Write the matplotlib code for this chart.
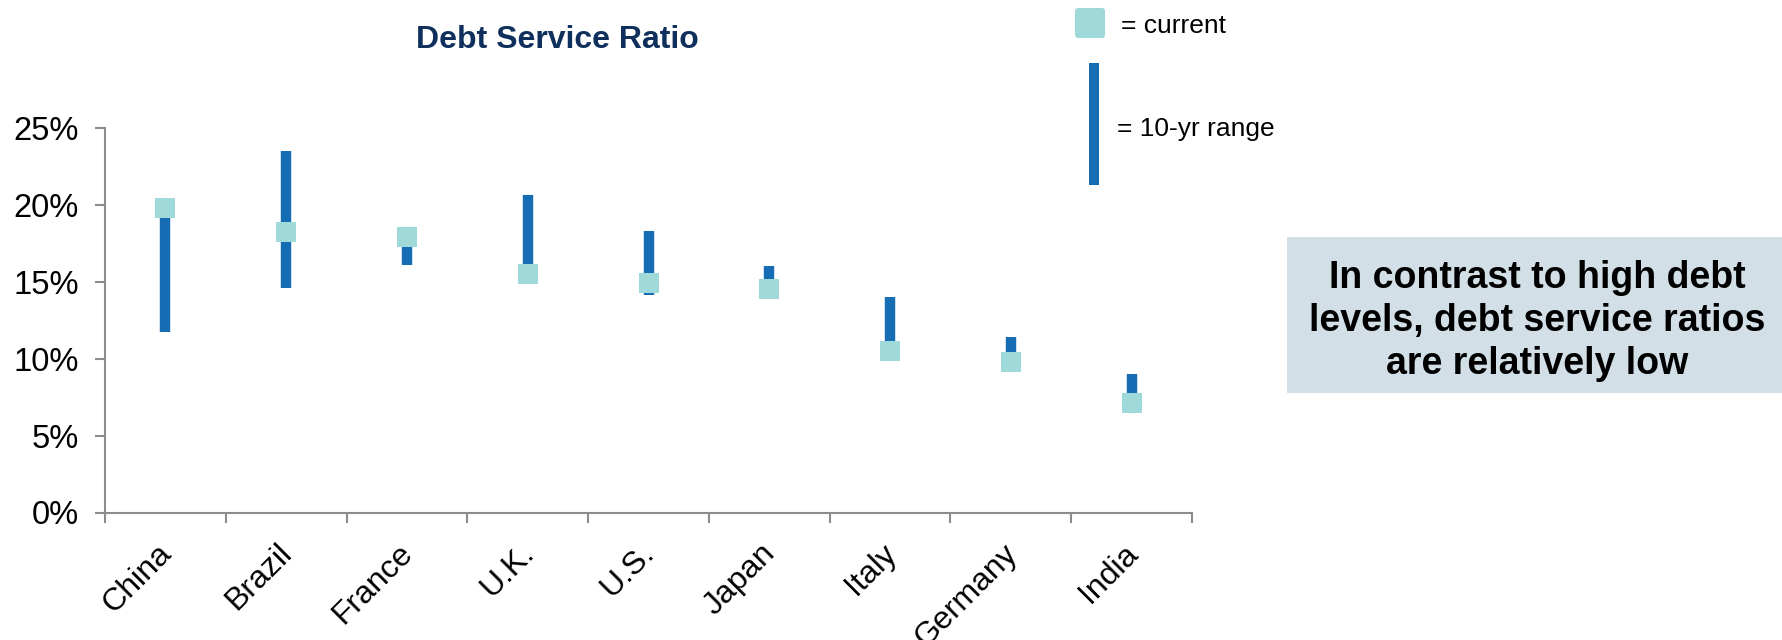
import numpy as np
import matplotlib
matplotlib.use('Agg')
import matplotlib.pyplot as plt
import matplotlib.transforms as mtransforms
from matplotlib.patches import Rectangle, FancyBboxPatch

plt.rcParams['font.family'] = ['Liberation Sans', 'DejaVu Sans']

# debt service ratio, % of income
countries = ['China', 'Brazil', 'France', 'U.K.', 'U.S.', 'Japan', 'Italy', 'Germany', 'India']
current = [19.8, 18.2, 17.9, 15.5, 14.9, 14.5, 10.5, 9.8, 7.1]
range_low = [11.7, 14.6, 16.1, 15.5, 14.1, 14.5, 10.5, 9.8, 7.1]
range_high = [19.8, 23.5, 17.9, 20.6, 18.3, 16.0, 14.0, 11.4, 9.0]
yticks = [0, 5, 10, 15, 20, 25]

bar_col = '#166db3'
cur_col = '#a0d9da'
axis_col = '#8c8c8c'

W, H = 1783, 640
fig = plt.figure(figsize=(W / 100, H / 100), dpi=100)
ax = fig.add_axes([105 / W, 1 - 512.5 / H, (1192 - 105) / W, (512.5 - 127.7) / H])

x = np.arange(len(countries)) + 0.5
ax.vlines(x, range_low, range_high, color=bar_col, linewidth=7.5, zorder=2)
ax.plot(x, current, linestyle='none', marker='s', markersize=14.6,
        color=cur_col, markeredgewidth=0, zorder=3, clip_on=False)

ax.set_xlim(0, len(countries))
ax.set_ylim(0, 25)
ax.set_yticks(yticks)
ax.set_yticklabels([f'{v}%' for v in yticks], fontsize=23.5)
ax.set_xticks(x)
ax.set_xticklabels(countries, fontsize=23, rotation=45, ha='right',
                   rotation_mode='anchor')
ax.set_xticks(np.arange(len(countries) + 1), minor=True)
ax.tick_params(axis='x', which='major', length=0, pad=18.5)
ax.tick_params(axis='x', which='minor', length=7, width=1.5, color=axis_col)
ax.tick_params(axis='y', length=7, width=1.5, color=axis_col, pad=12)
for s in ['top', 'right']:
    ax.spines[s].set_visible(False)
for s in ['left', 'bottom']:
    ax.spines[s].set_color(axis_col)
    ax.spines[s].set_linewidth(1.5)

# nudge the slanted country names a little to the left
shift = mtransforms.ScaledTranslation(-9 / 100, 0, fig.dpi_scale_trans)
for lab in ax.get_xticklabels():
    lab.set_transform(lab.get_transform() + shift)

# overlay in pixel coordinates for title, key and note
ov = fig.add_axes([0, 0, 1, 1])
ov.set_xlim(0, W)
ov.set_ylim(H, 0)
ov.axis('off')

ov.text(557, 40, 'Debt Service Ratio', fontsize=23, fontweight='bold',
        color='#0f305c', ha='center', va='center')

ov.add_patch(FancyBboxPatch((1075, 8), 30, 30, boxstyle='round,pad=0,rounding_size=3',
                            facecolor=cur_col, edgecolor='none'))
ov.text(1121, 26, '= current', fontsize=19, ha='left', va='center')
ov.add_patch(Rectangle((1089, 63), 10.5, 122, facecolor=bar_col, edgecolor='none'))
ov.text(1117, 129, '= 10-yr range', fontsize=19, ha='left', va='center')

ov.add_patch(Rectangle((1287, 237), 500, 156, facecolor='#d3dfe7', edgecolor='none'))
ov.text(1537, 321, 'In contrast to high debt\nlevels, debt service ratios\nare relatively low',
        fontsize=27, fontweight='bold', ha='center', va='center', linespacing=1.24)

fig.savefig('out.png', dpi=100)
